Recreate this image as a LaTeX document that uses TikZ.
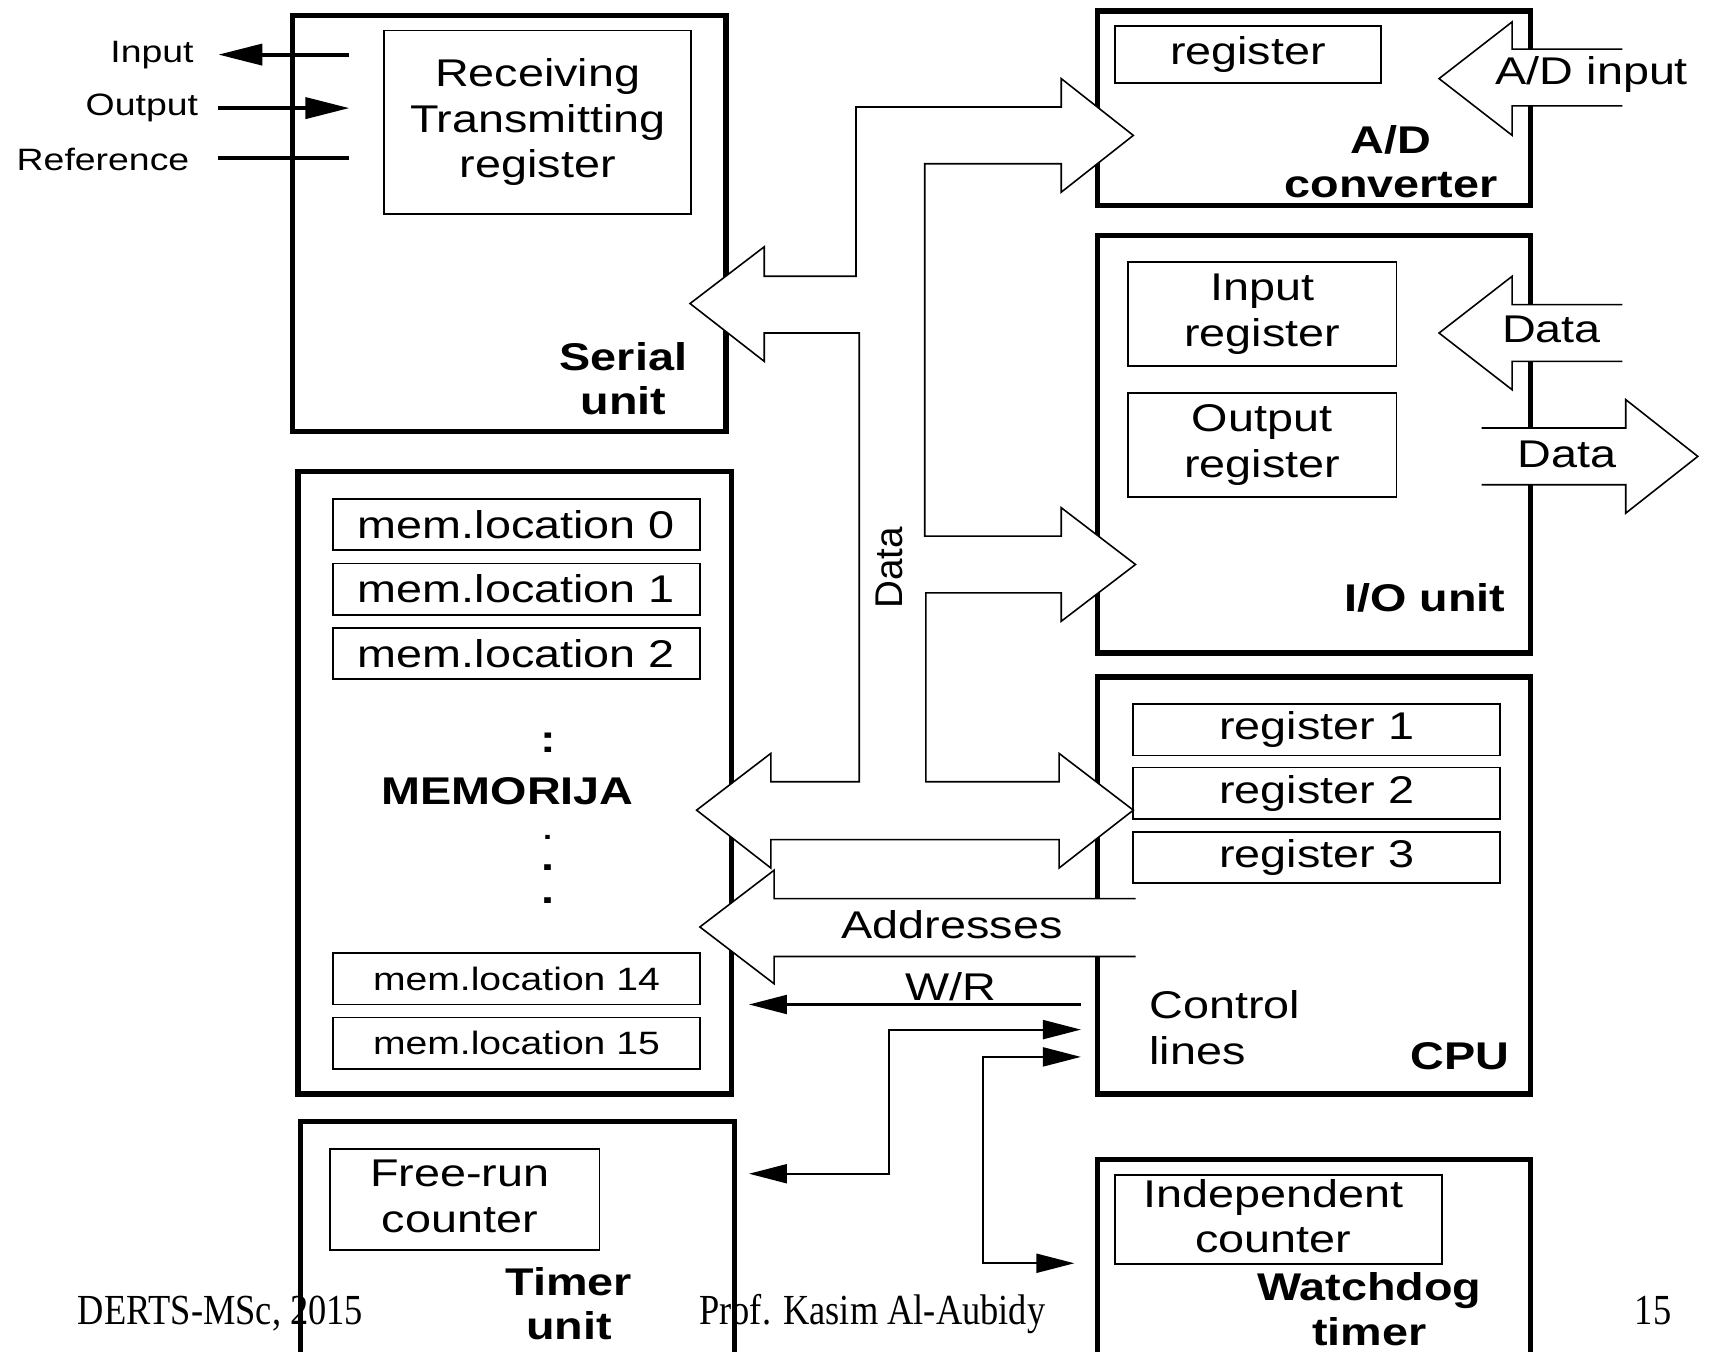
\documentclass[tikz,border=0pt]{standalone}
\usepackage{fontspec}
\setmainfont[FakeStretch=1.21]{Liberation Sans}
\newfontfamily\upright{Liberation Sans}
\newfontfamily\slidefont[FakeStretch=0.85]{Liberation Serif}
\usetikzlibrary{arrows.meta,fit}

\begin{document}
\begin{tikzpicture}[x=0.010918cm,y=-0.010918cm,
    font=\fontsize{11}{13}\selectfont,
    >={Triangle[length=0.38cm,width=0.19cm]},
    unit/.style={draw,line width=1.5pt,inner sep=0pt},
    reg/.style={draw,line width=0.5pt,inner sep=0pt},
    txt/.style={align=center,inner sep=0pt},
    title/.style={font=\fontsize{11}{12.7}\selectfont\bfseries,align=center},
    bus/.style={draw,fill=white,line width=0.45pt},
    sig/.style={line width=0.6pt},
    port/.style={line width=1.1pt,>={Triangle[length=0.44cm,width=0.21cm]}},
    small/.style={font=\fontsize{8.8}{10}\selectfont,inner sep=0pt},
    foot/.style={anchor=base,font=\slidefont\fontsize{12.2}{14}\selectfont}]
  \useasboundingbox (0,0) rectangle (1568,1238);
  \clip (0,0) rectangle (1568,1238);

  \node[unit,fit={(268,14)(665,395)}] (serial) {};
  \node[unit,fit={(1005,10)(1402,188)}] (adc) {};
  \node[unit,fit={(1005,216)(1402,598)}] (io) {};
  \node[unit,fit={(1005,620)(1402,1002)}] (cpu) {};
  \node[unit,fit={(1005,1062)(1402,1260)}] (wdt) {};
  \node[unit,fit={(273,432)(670,1002)}] (mem) {};
  \node[unit,fit={(275,1027)(673,1260)}] (timer) {};

  \draw[bus] (632,278) -- (700,226) -- (700,253) -- (784,253) -- (784,98)
    -- (972,98) -- (972,72) -- (1038,124) -- (972,176) -- (972,150)
    -- (847,150) -- (847,491) -- (972,491) -- (972,465) -- (1040,517)
    -- (972,569) -- (972,543) -- (848,543) -- (848,716) -- (970,716)
    -- (970,690) -- (1038,742) -- (970,795) -- (970,769) -- (706,769)
    -- (706,795) -- (638,742) -- (706,690) -- (706,716) -- (787,716)
    -- (787,305) -- (700,305) -- (700,331) -- cycle;
  \draw[bus] (1040,823) -- (709,823) -- (709,797) -- (641,849) -- (709,901)
    -- (709,876) -- (1040,876);
  \draw[bus] (1486,45) -- (1385,45) -- (1385,20) -- (1318,72) -- (1385,124)
    -- (1385,97) -- (1486,97);
  \draw[bus] (1486,279) -- (1385,279) -- (1385,253) -- (1318,305) -- (1385,357)
    -- (1385,331) -- (1486,331);
  \draw[bus] (1357,392) -- (1489,392) -- (1489,366) -- (1555,418) -- (1489,470)
    -- (1489,444) -- (1357,444);

  \node[reg,fit={(352,28)(633,196)}] (rtr) {};
  \node[txt] (rtr-t) at (rtr) {Receiving\\Transmitting\\register};
  \node[reg,fit={(1021,24)(1265,76)}] (adreg) {};
  \node[txt] (adreg-t) at (adreg) {register};
  \node[reg,fit={(1033,240)(1279,335)}] (inreg) {};
  \node[txt] (inreg-t) at (inreg) {Input\\register};
  \node[reg,fit={(1033,360)(1279,455)}] (outreg) {};
  \node[txt] (outreg-t) at (outreg) {Output\\register};
  \foreach \i/\y in {1/645,2/703,3/762} {
    \node[reg,fit={(1038,\y)(1374,\y+47)}] (r\i) {};
    \node[txt] (r\i-t) at (r\i) {register \i};
  }
  \foreach \i/\y in {0/457,1/516,2/575} {
    \node[reg,fit={(305,\y)(641,\y+47)}] (m\i) {};
    \node[txt] (m\i-t) at (m\i) {mem.location \i};
  }
  \foreach \i/\y in {14/873,15/932} {
    \node[reg,fit={(305,\y)(641,\y+47)}] (m\i) {};
    \node[txt,font=\fontsize{9.2}{11}\selectfont] (m\i-t) at (m\i) {mem.location \i};
  }
  \node[reg,fit={(302,1052)(549,1145)}] (frc) {};
  \node[txt] (frc-t) at (421,1096) {Free-run\\counter};
  \node[reg,fit={(1021,1076)(1321,1158)}] (ind) {};
  \node[txt] (ind-t) at (1166,1114) {Independent\\counter};

  \node[title] (serial-t) at (571,347) {Serial\\unit};
  \node[title] (adc-t) at (1274,148) {A/D\\converter};
  \node[title] (io-t) at (1305,548) {I/O unit};
  \node[title] (cpu-t) at (1337,967) {CPU};
  \node[title] (mem-t) at (465,725) {MEMORIJA};
  \node[title] (timer-t) at (521,1194) {Timer\\unit};
  \node[title] (wdt-t) at (1254,1199) {Watchdog\\timer};
  \node[title,inner sep=0pt] (dot0) at (502,680) {:};
  \node[inner sep=0pt] (dot1) at (502,767) {.};
  \node[title,inner sep=0pt] (dot2) at (502,795) {.};
  \node[title,inner sep=0pt] (dot3) at (502,825) {.};

  \foreach \n/\y in {rx/50,tx/99,ref/145} {
    \coordinate (\n-in) at (320,\y);
    \coordinate (\n-out) at (200,\y);
  }
  \draw[port,->] (rx-in) -- (rx-out);
  \draw[port,->] (tx-out) -- (tx-in);
  \draw[port] (ref-out) -- (ref-in);
  \node[small,anchor=east] (rx-l) at (178,50) {Input};
  \node[small,anchor=east] (tx-l) at (182,99) {Output};
  \node[small,anchor=east] (ref-l) at (174,146) {Reference};

  \coordinate (wr-a) at (990,920);
  \coordinate (wr-b) at (686,920);
  \coordinate (c1-a) at (686,1075);
  \coordinate (c1-b) at (990,943);
  \coordinate (c2-a) at (990,968);
  \coordinate (c2-b) at (984,1157);
  \draw[sig,->] (wr-a) -- (wr-b);
  \draw[sig,<->] (c1-a) -| (814,943) -- (c1-b);
  \draw[sig,<->] (c2-a) -| (900,1157) -- (c2-b);

  \node (wr) at (871,904) {W/R};
  \node (addr) at (872,847) {Addresses};
  \node[anchor=west,align=left,inner sep=0pt] (ctl) at (1052,941) {Control\\lines};
  \node[rotate=90,font=\upright\fontsize{11}{13}\selectfont] (data) at (815,520) {Data};
  \node (adin) at (1458,68) {A/D input};
  \node (din) at (1421,302) {Data};
  \node (dout) at (1435,416) {Data};

  \node[foot] (foot-l) at (202,1213) {DERTS-MSc, 2015};
  \node[foot] (foot-c) at (799,1213) {Prof. Kasim Al-Aubidy};
  \node[foot] (foot-r) at (1514,1213) {15};
\end{tikzpicture}
\end{document}
